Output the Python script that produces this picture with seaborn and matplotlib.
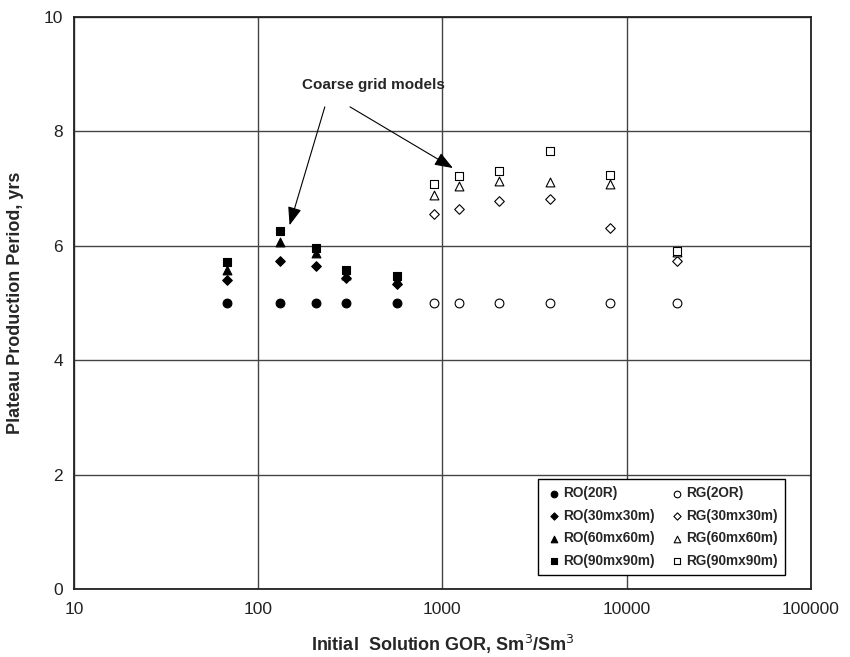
import numpy as np
import pandas as pd
import matplotlib
matplotlib.use('Agg')
import matplotlib.pyplot as plt
import seaborn as sns

# GOR values (Sm3/Sm3)
gor_ro = [68, 131, 206, 300, 566]
gor_rg = [900, 1230, 2030, 3830, 8100, 18750]

# plateau periods, yrs
ro_20r = [5.0, 5.0, 5.0, 5.0, 5.0]
ro_30 = [5.41, 5.74, 5.65, 5.43, 5.33]
ro_60 = [5.58, 6.07, 5.87, 5.49, 5.40]
ro_90 = [5.71, 6.26, 5.96, 5.58, 5.47]

rg_20r = [5.0, 5.0, 5.0, 5.0, 5.0, 5.0]
rg_30 = [6.56, 6.64, 6.78, 6.82, 6.32, 5.74]
rg_60 = [6.89, 7.05, 7.13, 7.12, 7.08, 5.89]
rg_90 = [7.09, 7.22, 7.31, 7.66, 7.24, 5.91]

sns.set_style('white')
plt.rcParams['font.family'] = ['Liberation Sans', 'DejaVu Sans']

fig = plt.figure(figsize=(8.5, 6.57), dpi=100)
ax = fig.add_axes([0.087, 0.1035, 0.867, 0.8705])

series = [
    ('RO(20R)', gor_ro, ro_20r, 'o', True, 40),
    ('RO(30mx30m)', gor_ro, ro_30, 'D', True, 24),
    ('RO(60mx60m)', gor_ro, ro_60, '^', True, 40),
    ('RO(90mx90m)', gor_ro, ro_90, 's', True, 38),
    ('RG(2OR)', gor_rg, rg_20r, 'o', False, 40),
    ('RG(30mx30m)', gor_rg, rg_30, 'D', False, 24),
    ('RG(60mx60m)', gor_rg, rg_60, '^', False, 40),
    ('RG(90mx90m)', gor_rg, rg_90, 's', False, 38),
]

for name, xs, ys, mk, filled, sz in series:
    df = pd.DataFrame({'GOR': xs, 'Period': ys})
    sns.scatterplot(data=df, x='GOR', y='Period', marker=mk, s=sz,
                    facecolor='black' if filled else 'white',
                    edgecolor='black', linewidth=0.8, label=name, ax=ax,
                    zorder=3)

ax.set_xscale('log')
ax.set_xlim(10, 100000)
ax.set_ylim(0, 10)
ax.set_xticks([10, 100, 1000, 10000, 100000])
ax.set_xticklabels(['10', '100', '1000', '10000', '100000'])
ax.xaxis.set_minor_locator(matplotlib.ticker.NullLocator())
ax.set_yticks([0, 2, 4, 6, 8, 10])
ax.set_yticklabels(['0', '2', '4', '6', '8', '10'])
ax.tick_params(axis='both', length=0, labelsize=12.5, colors='#222222')
ax.tick_params(axis='x', pad=9)
ax.tick_params(axis='y', pad=8)
ax.grid(True, which='major', color='#444444', linewidth=1.0)
for sp in ax.spines.values():
    sp.set_color('#222222')
    sp.set_linewidth(1.3)

ax.set_xlabel('Initial  Solution GOR, Sm$^3$/Sm$^3$', fontsize=13,
              fontweight='bold', labelpad=12)
ax.set_ylabel('Plateau Production Period, yrs', fontsize=13,
              fontweight='bold', labelpad=14)

ax.text(420, 8.81, 'Coarse grid models', fontsize=11, fontweight='bold',
        ha='center', va='center')
arr = dict(arrowstyle='-|>,head_length=0.8,head_width=0.3', color='black',
           lw=0.8, mutation_scale=14, shrinkA=0, shrinkB=0)
ax.annotate('', xy=(148, 6.36), xytext=(230, 8.43), arrowprops=arr)
ax.annotate('', xy=(1140, 7.36), xytext=(315, 8.43), arrowprops=arr)

leg = ax.legend(ncol=2, loc='lower right', bbox_to_anchor=(0.965, 0.024),
                borderaxespad=0, frameon=True, fancybox=False,
                prop={'weight': 'bold', 'size': 9.8}, handletextpad=0.1,
                columnspacing=1.0, labelspacing=0.62, handlelength=1.2,
                markerscale=0.75, borderpad=0.55)
leg.get_frame().set_edgecolor('black')
leg.get_frame().set_linewidth(1.0)
leg.get_frame().set_alpha(1)

fig.savefig('out.png', dpi=100)
